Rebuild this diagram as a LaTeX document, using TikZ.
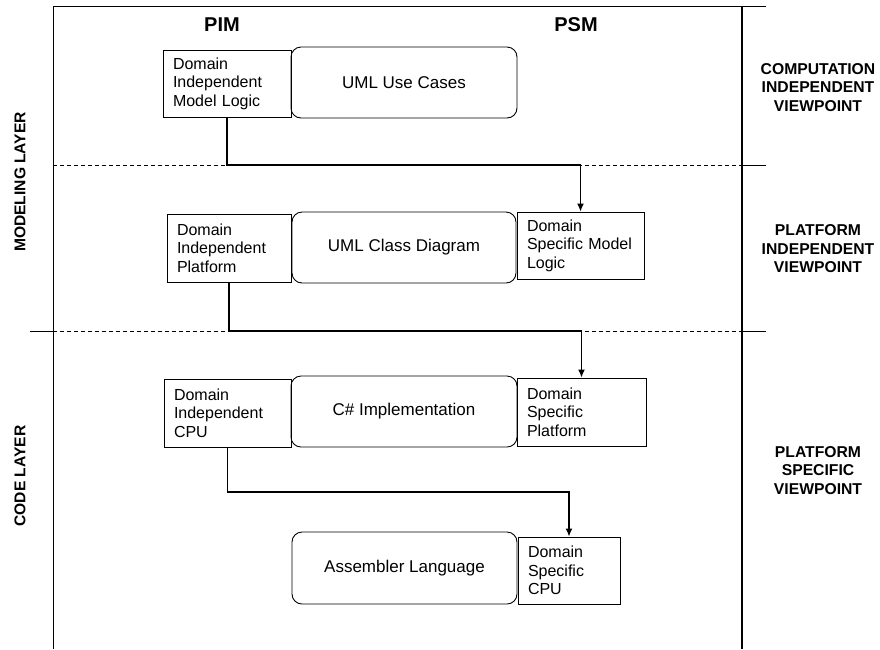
\documentclass[tikz,border=0pt]{standalone}
\usepackage{fontspec}
\setmainfont{Liberation Sans}
\usetikzlibrary{arrows.meta}
\begin{document}
\begin{tikzpicture}[x=1pt,y=-1pt,
  frame/.style={line width=1pt},
  sepline/.style={line width=0.8pt,dash pattern=on 4pt off 3pt},
  plainbox/.style={draw,line width=0.9pt,inner xsep=10pt,inner ysep=0pt,
    align=left,font=\fontsize{16}{18.5}\selectfont},
  roundbox/.style={draw,line width=0.9pt,rounded corners=10pt,
    font=\fontsize{17}{20}\selectfont},
  conn/.style={line width=1.3pt,-{Latex[length=8pt,width=7pt]}},
  colhead/.style={font=\bfseries\fontsize{20}{24}\selectfont},
  viewlabel/.style={align=center,font=\bfseries\fontsize{15.7}{18.5}\selectfont},
  layerlabel/.style={rotate=90,font=\bfseries\fontsize{15.6}{18}\selectfont}]
\useasboundingbox (0,0) rectangle (880,649);

% frame and layer separators
\coordinate (tl) at (53,6);
\coordinate (tr) at (766,6);
\coordinate (rl) at (742,6);
\coordinate (sep1) at (53,165);
\coordinate (sep2) at (53,331);
\draw[frame] (tl) -- (tr);
\draw[frame] (tl) -- (53,649);
\draw[line width=2.2pt] (rl) -- (742,649);
\draw[sepline] (sep1) -- (742,165);
\draw[frame] (742,165) -- (766,165);
\draw[frame] (30,331) -- (sep2);
\draw[sepline] (sep2) -- (742,331);
\draw[frame] (742,331) -- (766,331);

% column headings
\node[colhead] (pim) at (222,25) {PIM};
\node[colhead] (psm) at (576,25) {PSM};

% viewpoint labels
\node[viewlabel] (civ) at (818,87.5) {COMPUTATION\\INDEPENDENT\\VIEWPOINT};
\node[viewlabel] (piv) at (818,249) {PLATFORM\\INDEPENDENT\\VIEWPOINT};
\node[viewlabel] (psv) at (818,470.5) {PLATFORM\\SPECIFIC\\VIEWPOINT};

% layer labels
\node[layerlabel] (ml) at (20,182) {MODELING LAYER};
\node[layerlabel] (cl) at (20,476) {CODE LAYER};

% boxes
\node[plainbox,minimum width=128pt,minimum height=67pt,text width=108pt] (diml) at (227,83.5)
  {Domain\\Independent\\Model Logic};
\node[roundbox,minimum width=226pt,minimum height=71pt] (uc) at (404,82.5) {UML Use Cases};

\node[plainbox,minimum width=124pt,minimum height=68pt,text width=104pt] (dip) at (229,248)
  {Domain\\Independent\\Platform};
\node[roundbox,minimum width=224pt,minimum height=71pt] (ucd) at (404,247.5) {UML Class Diagram};
\node[plainbox,minimum width=127pt,minimum height=67pt,text width=107pt] (dsml) at (580.5,245.5)
  {Domain\\Specific Model\\Logic};

\node[plainbox,minimum width=127pt,minimum height=68pt,text width=107pt] (dic) at (227.5,413)
  {Domain\\Independent\\CPU};
\node[roundbox,minimum width=226pt,minimum height=71pt] (csi) at (404,411.5) {C\# Implementation};
\node[plainbox,minimum width=129pt,minimum height=68pt,text width=109pt] (dsp) at (581.5,412)
  {Domain\\Specific\\Platform};

\node[roundbox,minimum width=225pt,minimum height=72pt] (asm) at (404.5,568) {Assembler Language};
\node[plainbox,minimum width=102pt,minimum height=67pt,text width=82pt] (dscpu) at (569,570.5)
  {Domain\\Specific\\CPU};

% connectors
\coordinate (bend3) at (53,492);
\draw[conn] (diml.south) -- (diml.south |- sep1) -| (dsml.north);
\draw[conn] (dip.south) -- (dip.south |- sep2) -| (dsp.north);
\draw[conn] (dic.south) -- (dic.south |- bend3) -| (dscpu.north);
\end{tikzpicture}
\end{document}
